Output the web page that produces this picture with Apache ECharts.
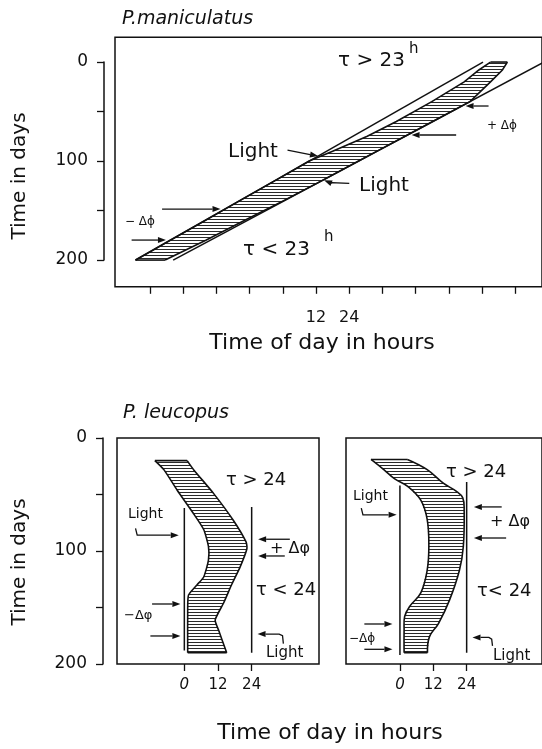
<!DOCTYPE html>
<html>
<head>
<meta charset="utf-8">
<title>Peromyscus entrainment schema</title>
<script src="https://cdn.jsdelivr.net/npm/echarts@6/dist/echarts.min.js"></script>
<style>
  html, body { margin: 0; padding: 0; background: #fff; }
  #chart { width: 542px; height: 749px; }
</style>
</head>
<body>
<div id="chart"></div>
<script>
// x = time of day in hours, y = time in days (downwards)

// P. maniculatus: drifting activity band
const topDays = [0, 8, 20, 40, 60, 75, 90, 100, 120, 140, 160, 180, 200];
const topBandEarly = [75.0, 70.8, 65.5, 53.8, 41.0, 30.5, 18.0, 9.5, -3.0, -15.6, -28.1, -40.7, -53.2];
const topBandLate = [81.1, 79.3, 75.0, 67.6, 54.2, 44.2, 34.1, 27.4, 14.0, 0.3, -13.9, -27.8, -42.5];
const topLightUpper = [[72.3, 0], [-53.2, 200]];   // tau > 23h
const topLightLower = [[96.4, -3], [-39.6, 200]];  // tau < 23h
const topTicks = [-48, -36, -24, -12, 0, 12, 24, 36, 48, 60, 72, 84];
const topTickLabels = [12, 24];

// P. leucopus, left panel
const leftEarlyDays = [20, 28, 46, 67, 81, 96, 108, 123, 130, 139, 152, 190];
const leftEarly = [-10.5, -7.3, -2.6, 3.3, 6.9, 8.6, 8.6, 6.9, 4.5, 1.5, 1.2, 1.2];
const leftLateDays = [20, 28, 49, 73, 92, 98, 114, 129, 146, 161, 170, 190];
const leftLate = [1.0, 3.3, 10.4, 17.5, 22.0, 22.3, 19.9, 17.0, 14.0, 11.0, 12.2, 15.1];
const leftLightOn = [[0, 62], [0, 188]];
const leftLightOff = [[24, 61], [24, 190]];

// P. leucopus, right panel
const rightEarlyDays = [19, 28, 36, 43, 55, 72, 96, 117, 137, 149, 158, 170, 190];
const rightEarly = [-10.4, -5.8, -2.0, 2.9, 7.5, 9.8, 10.4, 9.8, 7.5, 3.5, 1.7, 1.5, 1.5];
const rightLateDays = [19, 28, 40, 47, 53, 64, 96, 117, 143, 164, 176, 190];
const rightLate = [2.7, 9.8, 15.6, 20.2, 22.6, 23.1, 22.8, 21.4, 17.9, 13.9, 10.6, 9.9];
const rightLightOn = [[0, 42], [0, 192]];
const rightLightOff = [[24, 39], [24, 190]];

const bottomTicks = [0, 12, 24];
const dayTicks = [0, 100, 200];

// arrows, [hour, day] from tail to tip
const topArrows = [
  [[1.7, 88.9], [12.7, 95]],
  [[24.0, 122.5], [17.0, 121.8], [14.9, 119.5]],
  [[74.3, 44.4], [66.0, 44.4]],
  [[62.6, 73.7], [46.5, 73.7]],
  [[-43.6, 148.5], [-22.5, 148.5]],
  [[-54.6, 179.8], [-42.2, 179.8]]
];
const leftArrows = [
  [[-17.4, 80], [-16.8, 86], [-2.0, 86]],
  [[37.6, 89.6], [26.3, 89.6]],
  [[35.8, 104.4], [26.3, 104.4]],
  [[-11.5, 146.9], [-1.4, 146.9]],
  [[-12.1, 175.2], [-1.4, 175.2]],
  [[35.3, 182], [35.0, 175], [33.8, 173.5], [26.1, 173.5]]
];
const rightArrows = [
  [[-13.9, 62], [-13.3, 68], [-1.2, 68]],
  [[36.6, 61], [26.6, 61]],
  [[38.2, 88.5], [26.6, 88.5]],
  [[-12.8, 164.6], [-2.7, 164.6]],
  [[-12.8, 187], [-2.7, 187]],
  [[33.3, 184], [33.0, 178], [32.0, 176.5], [26.1, 176.5]]
];

const FONT = 'DejaVu Sans';
const INK = '#111';

const hatch = document.createElement('canvas');
hatch.width = 8;
hatch.height = 3;
const hg = hatch.getContext('2d');
hg.fillStyle = '#fff';
hg.fillRect(0, 0, 8, 3);
hg.fillStyle = '#2a2a2a';
hg.fillRect(0, 0, 8, 1);

// hatched band; the two side edges are stroked as (optionally smoothed) curves
function bandSeries(idx, earlyDays, early, lateDays, late, smooth) {
  return {
    type: 'custom',
    xAxisIndex: idx,
    yAxisIndex: idx,
    silent: true,
    data: [[early[0], earlyDays[0]]],
    renderItem: function (params, api) {
      const a = earlyDays.map((d, i) => api.coord([early[i], d]));
      const b = lateDays.map((d, i) => api.coord([late[i], d]));
      const line = { stroke: INK, lineWidth: 1.6, fill: null };
      return {
        type: 'group',
        children: [
          {
            type: 'polygon',
            shape: { points: a.concat(b.slice().reverse()) },
            style: { fill: { image: hatch, repeat: 'repeat' }, stroke: null }
          },
          { type: 'polyline', shape: { points: a, smooth: smooth }, style: line },
          { type: 'polyline', shape: { points: b, smooth: smooth }, style: line },
          { type: 'polyline', shape: { points: [a[0], b[0]] }, style: line },
          { type: 'polyline', shape: { points: [a[a.length - 1], b[b.length - 1]] }, style: line }
        ]
      };
    }
  };
}

function arrowSeries(idx, arrows) {
  return {
    type: 'custom',
    xAxisIndex: idx,
    yAxisIndex: idx,
    silent: true,
    clip: false,
    data: arrows.map((a) => a[0]),
    renderItem: function (params, api) {
      const pts = arrows[params.dataIndex].map((p) => api.coord(p));
      const tip = pts[pts.length - 1];
      const prev = pts[pts.length - 2];
      const dx = tip[0] - prev[0];
      const dy = tip[1] - prev[1];
      const len = Math.hypot(dx, dy) || 1;
      const ux = dx / len, uy = dy / len;
      const base = [tip[0] - ux * 8, tip[1] - uy * 8];
      return {
        type: 'group',
        children: [
          {
            type: 'polyline',
            shape: { points: pts.slice(0, -1).concat([base]) },
            style: { stroke: INK, lineWidth: 1.3, fill: null }
          },
          {
            type: 'polygon',
            shape: { points: [tip, [base[0] - uy * 3, base[1] + ux * 3], [base[0] + uy * 3, base[1] - ux * 3]] },
            style: { fill: INK }
          }
        ]
      };
    }
  };
}

function lineSeries(idx, data) {
  return {
    type: 'line',
    xAxisIndex: idx,
    yAxisIndex: idx,
    data: data,
    symbol: 'none',
    silent: true,
    lineStyle: { color: INK, width: 1.5 }
  };
}

function txt(text, x, y, size, opt) {
  opt = opt || {};
  return {
    type: 'text',
    x: x,
    y: y,
    rotation: opt.rotation || 0,
    silent: true,
    style: {
      text: text,
      fontFamily: FONT,
      fontSize: size,
      fontStyle: opt.italic ? 'italic' : 'normal',
      fill: INK,
      align: opt.align || 'left',
      textAlign: opt.align || 'left',
      verticalAlign: 'middle',
      textVerticalAlign: 'middle'
    }
  };
}

const frame = { show: true, borderColor: INK, borderWidth: 1.5, backgroundColor: 'transparent' };
const tickStyle = { color: INK, width: 1.3 };

function hourAxis(idx, min, max, ticks, labels, size, margin) {
  return {
    gridIndex: idx,
    type: 'value',
    position: 'bottom',
    min: min,
    max: max,
    axisLine: { show: false, onZero: false },
    splitLine: { show: false },
    axisTick: { show: true, inside: false, length: 7, customValues: ticks, lineStyle: tickStyle },
    axisLabel: {
      customValues: labels,
      margin: margin,
      color: INK,
      fontFamily: FONT,
      fontSize: size,
      formatter: (v) => (v === 0 ? '{i|0}' : String(v)),
      rich: { i: { fontFamily: FONT, fontSize: size, fontStyle: 'italic', color: INK } }
    }
  };
}

function dayAxis(idx) {
  return {
    gridIndex: idx,
    type: 'value',
    inverse: true,
    min: 0,
    max: 200,
    interval: 50,
    axisLine: { show: true, onZero: false, lineStyle: { color: INK, width: 1.5 } },
    axisTick: { show: true, inside: false, length: 7, lineStyle: tickStyle },
    splitLine: { show: false },
    axisLabel: {
      margin: 16,
      color: INK,
      fontFamily: FONT,
      fontSize: 17,
      formatter: (v) => (dayTicks.indexOf(v) >= 0 ? String(v) : '')
    }
  };
}

const chart = echarts.init(document.getElementById('chart'), null, { renderer: 'canvas' });

chart.setOption({
  animation: false,
  backgroundColor: '#fff',
  grid: [
    Object.assign({ left: 115, top: 37.3, width: 433, height: 249.5 }, frame),
    { left: 104, top: 62, width: 1, height: 198 },
    Object.assign({ left: 117, top: 438, width: 202, height: 226 }, frame),
    Object.assign({ left: 346, top: 438, width: 203, height: 226 }, frame),
    { left: 103, top: 438, width: 1, height: 226 }
  ],
  xAxis: [
    hourAxis(0, -60.6, 93.6, topTicks, topTickLabels, 16, 23),
    { gridIndex: 1, type: 'value', min: 0, max: 1, show: false },
    hourAxis(2, -24, 48, bottomTicks, bottomTicks, 15, 14),
    hourAxis(3, -19.4, 51.1, bottomTicks, bottomTicks, 15, 14),
    { gridIndex: 4, type: 'value', min: 0, max: 1, show: false }
  ],
  yAxis: [
    { gridIndex: 0, type: 'value', inverse: true, min: -25, max: 227, show: false },
    dayAxis(1),
    { gridIndex: 2, type: 'value', inverse: true, min: 0, max: 200, show: false },
    { gridIndex: 3, type: 'value', inverse: true, min: 0, max: 200, show: false },
    dayAxis(4)
  ],
  series: [
    bandSeries(0, topDays, topBandEarly, topDays, topBandLate, 0),
    lineSeries(0, topLightUpper),
    lineSeries(0, topLightLower),
    arrowSeries(0, topArrows),

    bandSeries(2, leftEarlyDays, leftEarly, leftLateDays, leftLate, 0.2),
    lineSeries(2, leftLightOn),
    lineSeries(2, leftLightOff),
    arrowSeries(2, leftArrows),

    bandSeries(3, rightEarlyDays, rightEarly, rightLateDays, rightLate, 0.4),
    lineSeries(3, rightLightOn),
    lineSeries(3, rightLightOff),
    arrowSeries(3, rightArrows)
  ],
  graphic: [
    txt('P.maniculatus', 122, 19, 19, { italic: true }),
    txt('Time in days', 20, 176, 20, { align: 'center', rotation: Math.PI / 2 }),
    txt('Time of day in hours', 322, 343, 22, { align: 'center' }),
    txt('τ > 23', 338, 61, 20),
    txt('h', 409, 49, 15),
    txt('Light', 228, 152, 20),
    txt('Light', 359, 186, 20),
    txt('+ Δϕ', 487, 126, 12),
    txt('− Δϕ', 125, 222, 12),
    txt('τ < 23', 243, 250, 20),
    txt('h', 324, 237, 15),

    txt('P. leucopus', 123, 413, 19, { italic: true }),
    txt('Time in days', 20, 562, 20, { align: 'center', rotation: Math.PI / 2 }),
    txt('Time of day in hours', 330, 733, 22, { align: 'center' }),
    txt('τ > 24', 226, 480, 18),
    txt('Light', 128, 514, 14),
    txt('+ Δφ', 270, 549, 16),
    txt('τ < 24', 256, 590, 18),
    txt('−Δφ', 124, 616, 13),
    txt('Light', 266, 653, 15),
    txt('τ > 24', 446, 472, 18),
    txt('Light', 353, 496, 14),
    txt('+ Δφ', 490, 522, 16),
    txt('τ< 24', 477, 591, 18),
    txt('−Δϕ', 349, 639, 12),
    txt('Light', 493, 656, 15)
  ]
});
</script>
</body>
</html>
